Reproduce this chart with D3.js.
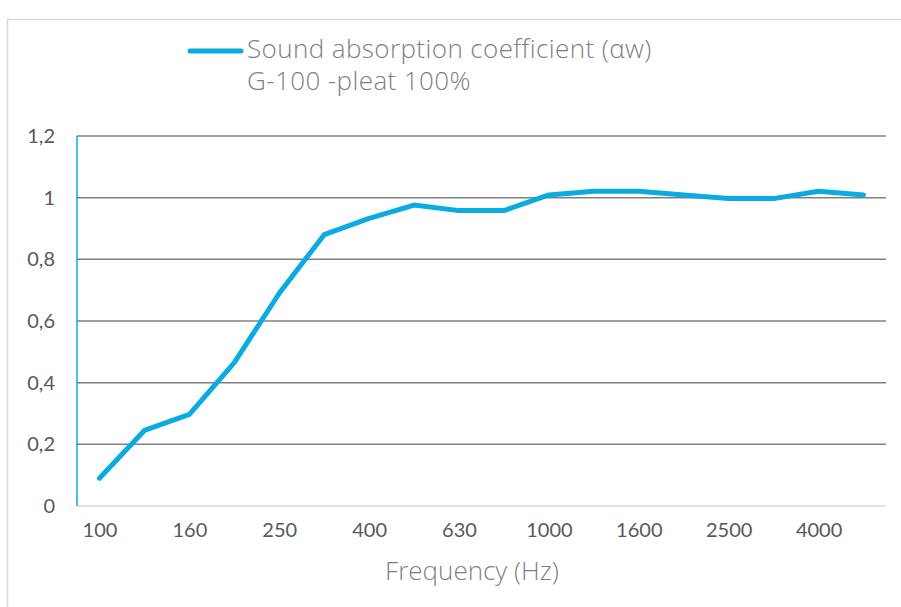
<!DOCTYPE html>
<meta charset="utf-8">
<head>
<style>
body { margin: 0; background: #fff; }
text { font-family: Lato, "Open Sans", sans-serif; }
.light { font-family: "Open Sans", Lato, sans-serif; font-weight: 300; }
</style>
</head>
<body>
<div id="my_dataviz"></div>
<script src="https://d3js.org/d3.v7.min.js"></script>
<script>

// frequencies (1/3 octave bands) and measured absorption
var frequencies = ["100","125","160","200","250","315","400","500","630","800",
                   "1000","1250","1600","2000","2500","3150","4000","5000"];
var absorption = [0.09, 0.245, 0.297, 0.465, 0.69, 0.88, 0.933, 0.976, 0.958, 0.958,
                  1.009, 1.021, 1.021, 1.009, 0.997, 0.997, 1.021, 1.009];
var yTicks = [0, 0.2, 0.4, 0.6, 0.8, 1, 1.2];
var xLabels = ["100","160","250","400","630","1000","1600","2500","4000"];
var seriesName = ["Sound absorption coefficient (\u03b1w)", "G-100 -pleat 100%"];

var W = 901, H = 607;
var margin = {top: 136, right: 15, bottom: 101, left: 77},
    width = W - margin.left - margin.right,
    height = H - margin.top - margin.bottom;

var svg = d3.select("#my_dataviz")
  .append("svg")
    .attr("width", W)
    .attr("height", H);

// chart border
svg.append("rect")
  .attr("x", 7.5).attr("y", 19.5)
  .attr("width", W).attr("height", H)
  .attr("fill", "none")
  .attr("stroke", "#d9d9d9")
  .attr("stroke-width", 1.5);

var g = svg.append("g")
  .attr("transform", "translate(" + margin.left + "," + margin.top + ")");

var x = d3.scalePoint()
  .domain(frequencies)
  .range([0, width])
  .padding(0.5);

var y = d3.scaleLinear()
  .domain([0, 1.2])
  .range([height, 0]);

// gridlines
g.append("g")
  .selectAll("line")
  .data(yTicks)
  .enter()
  .append("line")
    .attr("x1", 0)
    .attr("x2", width)
    .attr("y1", function(d) { return y(d); })
    .attr("y2", function(d) { return y(d); })
    .attr("stroke", function(d) { return d === 0 ? "#d9d9d9" : "#808080"; })
    .attr("stroke-width", 1.5);

// y axis labels
var yAxis = d3.axisLeft(y)
  .tickValues(yTicks)
  .tickSize(0)
  .tickPadding(22)
  .tickFormat(function(d) { return String(d).replace(".", ","); });
g.append("g")
  .call(yAxis)
  .call(function(s) { s.select(".domain").remove(); })
  .selectAll("text")
    .style("font-family", "Lato, sans-serif")
    .style("font-size", "20px")
    .attr("fill", "#595959");

// blue vertical axis line
g.append("line")
  .attr("x1", 0).attr("x2", 0)
  .attr("y1", y(1.2)).attr("y2", y(0))
  .attr("stroke", "#0aabe0")
  .attr("stroke-width", 1.5);

// x axis labels
var xAxis = d3.axisBottom(x)
  .tickValues(xLabels)
  .tickSize(0)
  .tickPadding(17);
g.append("g")
  .attr("transform", "translate(0," + height + ")")
  .call(xAxis)
  .call(function(s) { s.select(".domain").remove(); })
  .selectAll("text")
    .style("font-family", "Lato, sans-serif")
    .style("font-size", "20px")
    .attr("fill", "#595959");

// x axis title
svg.append("text")
  .attr("class", "light")
  .attr("x", 472)
  .attr("y", 580)
  .attr("text-anchor", "middle")
  .style("font-size", "26px")
  .attr("fill", "#7f7f7f")
  .text("Frequency (Hz)");

// the line
var line = d3.line()
  .x(function(d, i) { return x(frequencies[i]); })
  .y(function(d) { return y(d); });

g.append("path")
  .datum(absorption)
  .attr("fill", "none")
  .attr("stroke", "#0aabe0")
  .attr("stroke-width", 5)
  .attr("stroke-linejoin", "round")
  .attr("stroke-linecap", "round")
  .attr("d", line);

// legend
var legend = svg.append("g").attr("class", "legend");
legend.append("line")
  .attr("x1", 190).attr("x2", 241)
  .attr("y1", 51).attr("y2", 51)
  .attr("stroke", "#0aabe0")
  .attr("stroke-width", 5)
  .attr("stroke-linecap", "round");
legend.selectAll(".ltext")
  .data(seriesName)
  .enter()
  .append("text")
    .attr("class", "ltext light")
    .attr("x", 247)
    .attr("y", function(d, i) { return 58 + i * 32; })
    .style("font-size", "26px")
    .style("letter-spacing", "0.4px")
    .attr("fill", "#7f7f7f")
    .text(function(d) { return d; });

</script>
</body>
